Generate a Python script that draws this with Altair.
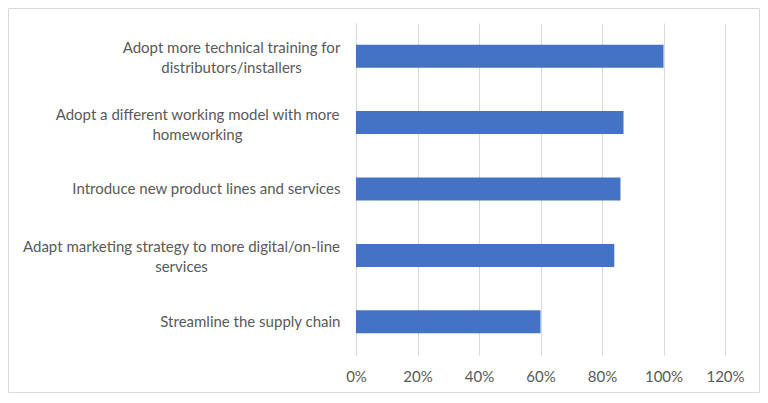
import altair as alt
import pandas as pd

categories = [
    "Adopt more technical training for|distributors/installers",
    "Adopt a different working model with more|homeworking",
    "Introduce new product lines and services",
    "Adapt marketing strategy to more digital/on-line|services",
    "Streamline the supply chain",
]
values = [1.00, 0.87, 0.86, 0.84, 0.60]
x_ticks = [0, 0.2, 0.4, 0.6, 0.8, 1.0, 1.2]

df = pd.DataFrame({"category": categories, "value": values})

W, H = 369, 332
PL, PT, PR, PB = 348, 15, 35, 38
FONT = "Lato"
FS = 15
GREY = "#595959"
PAD = 16
# half widths of the first line of two-line labels (to centre the lines)
half = {categories[0]: 109, categories[1]: 143, categories[3]: 159}

label_pad = {
    "condition": [
        {"test": f"datum.value == {repr(k)}", "value": PAD + v} for k, v in half.items()
    ],
    "value": PAD,
}
label_align = {
    "condition": {"test": "indexof(datum.value, '|') >= 0", "value": "center"},
    "value": "right",
}
label_offset = {
    "condition": {"test": "indexof(datum.value, '|') >= 0", "value": -8},
    "value": 0,
}

bars = alt.Chart(df).mark_bar(color="#4472C4", size=23).encode(
    y=alt.Y(
        "category:N",
        sort=categories,
        title=None,
        axis=alt.Axis(
            labelExpr="split(datum.label, '|')",
            labelFont=FONT,
            labelFontSize=FS,
            labelColor=GREY,
            labelPadding=label_pad,
            labelAlign=label_align,
            labelOffset=label_offset,
            labelLineHeight=20,
            labelLimit=400,
            ticks=False,
            domain=True,
            domainColor="#d9d9d9",
            domainWidth=1,
            grid=False,
        ),
    ),
    x=alt.X(
        "value:Q",
        title=None,
        scale=alt.Scale(domain=[0, 1.2], nice=False),
        axis=alt.Axis(
            values=x_ticks,
            format=".0%",
            labelFont=FONT,
            labelFontSize=FS,
            labelColor=GREY,
            labelPadding=14,
            labelFlush=False,
            labelAlign="center",
            ticks=False,
            domain=False,
            grid=True,
            gridColor="#d9d9d9",
            gridWidth=1,
        ),
    ),
)

border = alt.Chart(pd.DataFrame({"a": [0]})).mark_rect(
    fill=None, stroke="#d9d9d9", strokeWidth=1
).encode(
    x=alt.value(-PL + 0.5),
    x2=alt.value(W + PR - 0.5),
    y=alt.value(-PT + 0.5),
    y2=alt.value(H + PB - 0.5),
)

chart = alt.layer(bars, border).properties(
    width=W,
    height=H,
    padding={"left": PL, "top": PT, "right": PR, "bottom": PB},
    autosize=alt.AutoSizeParams(type="none"),
    background="white",
).configure_view(stroke=None)

chart.save("out.html", embed_options={"renderer": "svg", "actions": False})
